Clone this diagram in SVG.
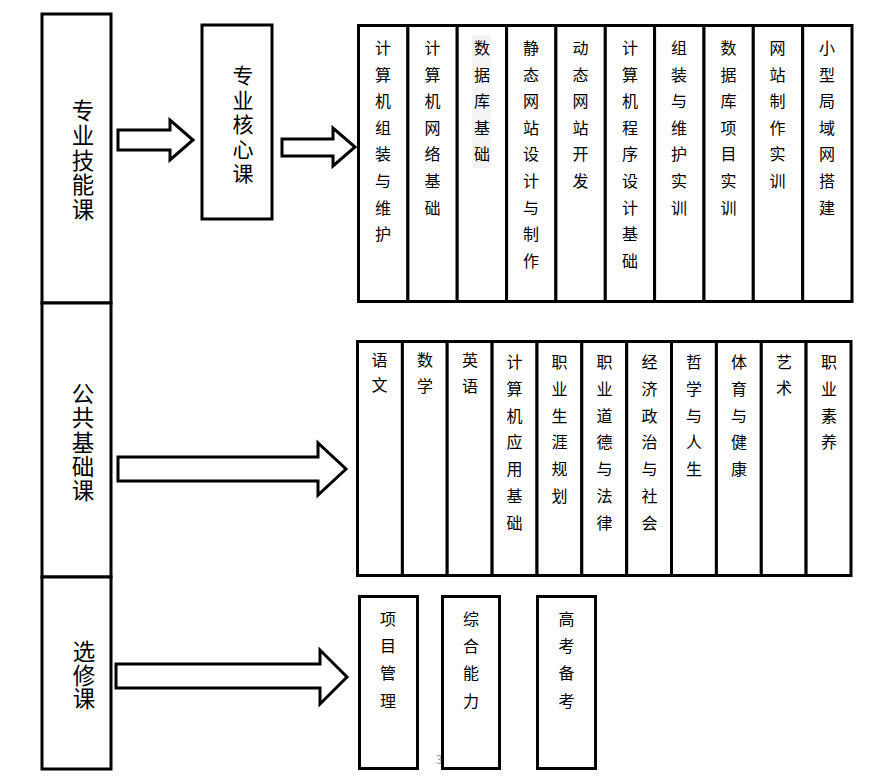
<svg xmlns="http://www.w3.org/2000/svg" width="886" height="780" viewBox="0 0 886 780">
<style>
.box{fill:#fff;stroke:#000;stroke-width:3}
.arr{fill:#fff;stroke:#000;stroke-width:3;stroke-linejoin:miter}
text{font-family:"Noto Sans CJK SC","Noto Sans",sans-serif;fill:#000;text-anchor:middle;dominant-baseline:central}
.s{font-size:16px}
.b{font-size:22.5px}
.m{font-size:21px}
.pg{font-size:12px;fill:#999}
</style>
<rect width="886" height="780" fill="#fff"/>
<text class="pg" x="439" y="758">3</text>
<g id="connectors">
<polygon class="arr" points="118,130 170,130 170,120 193,140 170,160 170,150 118,150"/>
<polygon class="arr" points="282,139 333,139 333,128 355,147 333,166 333,156 282,156"/>
<polygon class="arr" points="118,457 318,457 318,443 346,469 318,495 318,481 118,481"/>
<polygon class="arr" points="116,664 320,664 320,650 347,677 320,704 320,688 116,688"/>
</g>
<g id="zhuanye-jineng">
<rect class="box" x="42" y="14" width="69" height="289"/>
<text class="b" x="83" y="109"><tspan x="83">专</tspan><tspan x="83" dy="24.8">业</tspan><tspan x="83" dy="24.8">技</tspan><tspan x="83" dy="24.8">能</tspan><tspan x="83" dy="24.8">课</tspan></text>
</g>
<g id="gonggong-jichu">
<rect class="box" x="42" y="303" width="69" height="274"/>
<text class="b" x="83" y="392"><tspan x="83">公</tspan><tspan x="83" dy="24.3">共</tspan><tspan x="83" dy="24.3">基</tspan><tspan x="83" dy="24.3">础</tspan><tspan x="83" dy="24.3">课</tspan></text>
</g>
<g id="xuanxiu">
<rect class="box" x="42" y="577" width="69" height="192"/>
<text class="b" x="84" y="650"><tspan x="84">选</tspan><tspan x="84" dy="23.5">修</tspan><tspan x="84" dy="23.5">课</tspan></text>
</g>
<g id="hexin">
<rect class="box" x="202" y="25" width="70" height="194"/>
<text class="m" x="243" y="74"><tspan x="243">专</tspan><tspan x="243" dy="24.5">业</tspan><tspan x="243" dy="24.5">核</tspan><tspan x="243" dy="24.5">心</tspan><tspan x="243" dy="24.5">课</tspan></text>
</g>
<g id="row1">
<g id="r1c1"><rect class="box" x="358.5" y="25.5" width="49.4" height="276"/>
<text class="s" x="383" y="47"><tspan x="383">计</tspan><tspan x="383" dy="26.6">算</tspan><tspan x="383" dy="26.6">机</tspan><tspan x="383" dy="26.6">组</tspan><tspan x="383" dy="26.6">装</tspan><tspan x="383" dy="26.6">与</tspan><tspan x="383" dy="26.6">维</tspan><tspan x="383" dy="26.6">护</tspan></text></g>
<g id="r1c2"><rect class="box" x="407.9" y="25.5" width="49.3" height="276"/>
<text class="s" x="432.5" y="47"><tspan x="432.5">计</tspan><tspan x="432.5" dy="26.6">算</tspan><tspan x="432.5" dy="26.6">机</tspan><tspan x="432.5" dy="26.6">网</tspan><tspan x="432.5" dy="26.6">络</tspan><tspan x="432.5" dy="26.6">基</tspan><tspan x="432.5" dy="26.6">础</tspan></text></g>
<g id="r1c3"><rect class="box" x="457.2" y="25.5" width="49.4" height="276"/>
<rect x="472" y="35" width="19" height="133" fill="#f4f4f4"/>
<text class="s" x="482" y="47"><tspan x="482">数</tspan><tspan x="482" dy="26.6">据</tspan><tspan x="482" dy="26.6">库</tspan><tspan x="482" dy="26.6">基</tspan><tspan x="482" dy="26.6">础</tspan></text></g>
<g id="r1c4"><rect class="box" x="506.6" y="25.5" width="49.3" height="276"/>
<text class="s" x="531" y="47"><tspan x="531">静</tspan><tspan x="531" dy="26.6">态</tspan><tspan x="531" dy="26.6">网</tspan><tspan x="531" dy="26.6">站</tspan><tspan x="531" dy="26.6">设</tspan><tspan x="531" dy="26.6">计</tspan><tspan x="531" dy="26.6">与</tspan><tspan x="531" dy="26.6">制</tspan><tspan x="531" dy="26.6">作</tspan></text></g>
<g id="r1c5"><rect class="box" x="555.9" y="25.5" width="49.4" height="276"/>
<text class="s" x="580.5" y="47"><tspan x="580.5">动</tspan><tspan x="580.5" dy="26.6">态</tspan><tspan x="580.5" dy="26.6">网</tspan><tspan x="580.5" dy="26.6">站</tspan><tspan x="580.5" dy="26.6">开</tspan><tspan x="580.5" dy="26.6">发</tspan></text></g>
<g id="r1c6"><rect class="box" x="605.3" y="25.5" width="49.3" height="276"/>
<text class="s" x="630" y="47"><tspan x="630">计</tspan><tspan x="630" dy="26.6">算</tspan><tspan x="630" dy="26.6">机</tspan><tspan x="630" dy="26.6">程</tspan><tspan x="630" dy="26.6">序</tspan><tspan x="630" dy="26.6">设</tspan><tspan x="630" dy="26.6">计</tspan><tspan x="630" dy="26.6">基</tspan><tspan x="630" dy="26.6">础</tspan></text></g>
<g id="r1c7"><rect class="box" x="654.6" y="25.5" width="49.4" height="276"/>
<text class="s" x="679" y="47"><tspan x="679">组</tspan><tspan x="679" dy="26.6">装</tspan><tspan x="679" dy="26.6">与</tspan><tspan x="679" dy="26.6">维</tspan><tspan x="679" dy="26.6">护</tspan><tspan x="679" dy="26.6">实</tspan><tspan x="679" dy="26.6">训</tspan></text></g>
<g id="r1c8"><rect class="box" x="704" y="25.5" width="49.3" height="276"/>
<text class="s" x="728.5" y="47"><tspan x="728.5">数</tspan><tspan x="728.5" dy="26.6">据</tspan><tspan x="728.5" dy="26.6">库</tspan><tspan x="728.5" dy="26.6">项</tspan><tspan x="728.5" dy="26.6">目</tspan><tspan x="728.5" dy="26.6">实</tspan><tspan x="728.5" dy="26.6">训</tspan></text></g>
<g id="r1c9"><rect class="box" x="753.3" y="25.5" width="49.4" height="276"/>
<text class="s" x="777.5" y="47"><tspan x="777.5">网</tspan><tspan x="777.5" dy="26.6">站</tspan><tspan x="777.5" dy="26.6">制</tspan><tspan x="777.5" dy="26.6">作</tspan><tspan x="777.5" dy="26.6">实</tspan><tspan x="777.5" dy="26.6">训</tspan></text></g>
<g id="r1c10"><rect class="box" x="802.7" y="25.5" width="49.3" height="276"/>
<text class="s" x="827" y="47"><tspan x="827">小</tspan><tspan x="827" dy="26.6">型</tspan><tspan x="827" dy="26.6">局</tspan><tspan x="827" dy="26.6">域</tspan><tspan x="827" dy="26.6">网</tspan><tspan x="827" dy="26.6">搭</tspan><tspan x="827" dy="26.6">建</tspan></text></g>
</g>
<g id="row2">
<g id="r2c1"><rect class="box" x="357.5" y="341.5" width="44.9" height="234"/>
<text class="s" x="379.5" y="359"><tspan x="379.5">语</tspan><tspan x="379.5" dy="25">文</tspan></text></g>
<g id="r2c2"><rect class="box" x="402.4" y="341.5" width="44.8" height="234"/>
<text class="s" x="425" y="359"><tspan x="425">数</tspan><tspan x="425" dy="26">学</tspan></text></g>
<g id="r2c3"><rect class="box" x="447.2" y="341.5" width="44.9" height="234"/>
<text class="s" x="470" y="359"><tspan x="470">英</tspan><tspan x="470" dy="26">语</tspan></text></g>
<g id="r2c4"><rect class="box" x="492.1" y="341.5" width="44.9" height="234"/>
<text class="s" x="514.5" y="361"><tspan x="514.5">计</tspan><tspan x="514.5" dy="26.8">算</tspan><tspan x="514.5" dy="26.8">机</tspan><tspan x="514.5" dy="26.8">应</tspan><tspan x="514.5" dy="26.8">用</tspan><tspan x="514.5" dy="26.8">基</tspan><tspan x="514.5" dy="26.8">础</tspan></text></g>
<g id="r2c5"><rect class="box" x="537" y="341.5" width="44.8" height="234"/>
<text class="s" x="559.5" y="361"><tspan x="559.5">职</tspan><tspan x="559.5" dy="26.8">业</tspan><tspan x="559.5" dy="26.8">生</tspan><tspan x="559.5" dy="26.8">涯</tspan><tspan x="559.5" dy="26.8">规</tspan><tspan x="559.5" dy="26.8">划</tspan></text></g>
<g id="r2c6"><rect class="box" x="581.8" y="341.5" width="44.9" height="234"/>
<text class="s" x="604.5" y="361"><tspan x="604.5">职</tspan><tspan x="604.5" dy="26.8">业</tspan><tspan x="604.5" dy="26.8">道</tspan><tspan x="604.5" dy="26.8">德</tspan><tspan x="604.5" dy="26.8">与</tspan><tspan x="604.5" dy="26.8">法</tspan><tspan x="604.5" dy="26.8">律</tspan></text></g>
<g id="r2c7"><rect class="box" x="626.7" y="341.5" width="44.8" height="234"/>
<text class="s" x="649.5" y="361"><tspan x="649.5">经</tspan><tspan x="649.5" dy="26.8">济</tspan><tspan x="649.5" dy="26.8">政</tspan><tspan x="649.5" dy="26.8">治</tspan><tspan x="649.5" dy="26.8">与</tspan><tspan x="649.5" dy="26.8">社</tspan><tspan x="649.5" dy="26.8">会</tspan></text></g>
<g id="r2c8"><rect class="box" x="671.5" y="341.5" width="44.9" height="234"/>
<text class="s" x="694" y="361"><tspan x="694">哲</tspan><tspan x="694" dy="26.8">学</tspan><tspan x="694" dy="26.8">与</tspan><tspan x="694" dy="26.8">人</tspan><tspan x="694" dy="26.8">生</tspan></text></g>
<g id="r2c9"><rect class="box" x="716.4" y="341.5" width="44.9" height="234"/>
<text class="s" x="739" y="361"><tspan x="739">体</tspan><tspan x="739" dy="26.8">育</tspan><tspan x="739" dy="26.8">与</tspan><tspan x="739" dy="26.8">健</tspan><tspan x="739" dy="26.8">康</tspan></text></g>
<g id="r2c10"><rect class="box" x="761.3" y="341.5" width="44.8" height="234"/>
<text class="s" x="784" y="361"><tspan x="784">艺</tspan><tspan x="784" dy="26">术</tspan></text></g>
<g id="r2c11"><rect class="box" x="806.1" y="341.5" width="44.9" height="234"/>
<text class="s" x="829" y="361"><tspan x="829">职</tspan><tspan x="829" dy="26.8">业</tspan><tspan x="829" dy="26.8">素</tspan><tspan x="829" dy="26.8">养</tspan></text></g>
</g>
<g id="row3">
<g id="r3c1"><rect class="box" x="359.5" y="596.5" width="58" height="172"/>
<text class="s" x="388" y="618"><tspan x="388">项</tspan><tspan x="388" dy="27.2">目</tspan><tspan x="388" dy="27.2">管</tspan><tspan x="388" dy="27.2">理</tspan></text></g>
<g id="r3c2"><rect class="box" x="442.5" y="596.5" width="57" height="172"/>
<text class="s" x="471" y="618"><tspan x="471">综</tspan><tspan x="471" dy="27.2">合</tspan><tspan x="471" dy="27.2">能</tspan><tspan x="471" dy="27.2">力</tspan></text></g>
<g id="r3c3"><rect class="box" x="537.5" y="596.5" width="58" height="172"/>
<text class="s" x="566.5" y="618"><tspan x="566.5">高</tspan><tspan x="566.5" dy="27.2">考</tspan><tspan x="566.5" dy="27.2">备</tspan><tspan x="566.5" dy="27.2">考</tspan></text></g>
</g>
</svg>
